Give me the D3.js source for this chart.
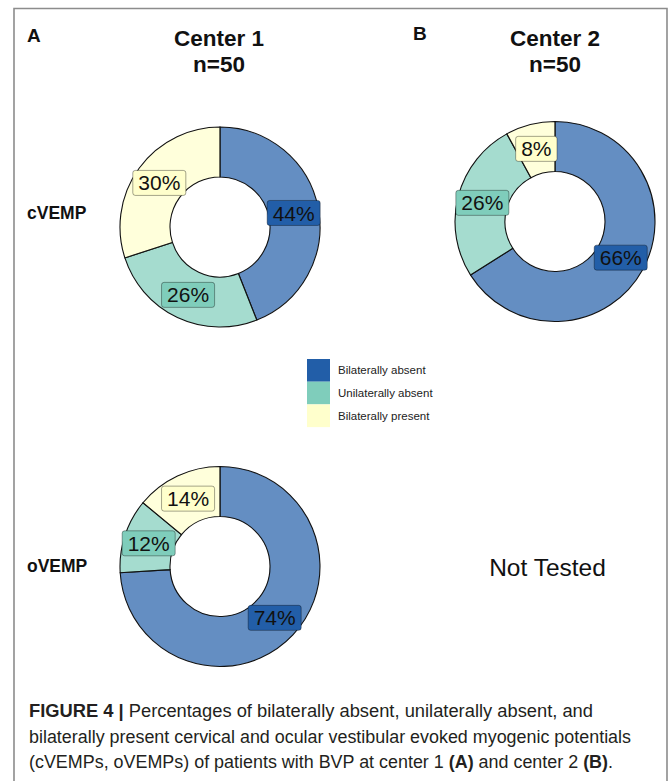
<!DOCTYPE html>
<html>
<head>
<meta charset="utf-8">
<script src="https://cdn.jsdelivr.net/npm/d3@7"></script>
<style>
  html, body { margin: 0; padding: 0; background: #fff; }
  svg { display: block; font-family: "Liberation Sans", Arial, Helvetica, sans-serif; }
</style>
</head>
<body>
<svg id="fig" width="669" height="781"></svg>
<script>
// Response categories, shared by every ring and the key
const categories = ["Bilaterally absent", "Unilaterally absent", "Bilaterally present"];
const keyColors = ["#225EA8", "#7FCDBB", "#FFFFCC"];

// Percent of patients per category
const center1Cvemp = [44, 26, 30];
const center2Cvemp = [66, 26, 8];
const center1Ovemp = [74, 12, 14];

// Text
const panelLetters = ["A", "B"];
const centerTitles = ["Center 1", "Center 2"];
const sampleSizes = ["n=50", "n=50"];
const rowLabels = ["cVEMP", "oVEMP"];
const missingText = "Not Tested";

const svg = d3.select("#fig");

// Outer frame (top, left, right edges)
svg.append("path")
  .attr("d", "M14,781 L14,8.5 L667,8.5 L667,781")
  .attr("fill", "none")
  .attr("stroke", "#8c8c8c")
  .attr("stroke-width", 1.6);

const color = d3.scaleOrdinal().domain(categories).range(keyColors);
const pie = d3.pie().sort(null).value(d => d.value);
const rOuter = 100, rInner = 50;
const arc = d3.arc().innerRadius(rInner).outerRadius(rOuter);
const labelArc = d3.arc().innerRadius(75).outerRadius(75);

function donut(values, cx, cy) {
  const data = values.map((v, i) => ({ key: categories[i], value: v }));
  const arcs = pie(data);
  const g = svg.append("g").attr("transform", `translate(${cx},${cy})`);

  g.selectAll("path.slice")
    .data(arcs)
    .join("path")
    .attr("class", "slice")
    .attr("d", arc)
    .attr("fill", d => color(d.data.key))
    .attr("fill-opacity", 0.7)
    .attr("stroke", "#111")
    .attr("stroke-width", 1.1);

  // white fill behind the translucent slices
  g.insert("circle", "path")
    .attr("r", rOuter)
    .attr("fill", "#fff");

  const lab = g.selectAll("g.lab")
    .data(arcs)
    .join("g")
    .attr("class", "lab")
    .attr("transform", d => `translate(${labelArc.centroid(d)})`);

  lab.each(function (d) {
    const sel = d3.select(this);
    const t = sel.append("text")
      .attr("text-anchor", "middle")
      .attr("dy", "0.36em")
      .attr("font-size", 21)
      .attr("fill", "#111")
      .text(d.data.value + "%");
    const w = t.node().getComputedTextLength() + 11;
    const h = 25;
    sel.insert("rect", "text")
      .attr("x", -w / 2)
      .attr("y", -h / 2)
      .attr("width", w)
      .attr("height", h)
      .attr("rx", 2.5)
      .attr("fill", color(d.data.key))
      .attr("stroke", "rgba(0,0,0,0.45)")
      .attr("stroke-width", 0.8);
  });
}

donut(center1Cvemp, 220, 227);
donut(center2Cvemp, 555, 221.5);
donut(center1Ovemp, 220, 566.5);

// Panel letters and column titles
const colX = [219, 555];
panelLetters.forEach((l, i) => {
  svg.append("text")
    .attr("x", i === 0 ? 27 : 413)
    .attr("y", i === 0 ? 42 : 40)
    .attr("font-size", 19)
    .attr("font-weight", "bold")
    .attr("fill", "#111")
    .text(l);
});
centerTitles.forEach((t, i) => {
  svg.append("text")
    .attr("x", colX[i]).attr("y", 46)
    .attr("text-anchor", "middle")
    .attr("font-size", 22.5)
    .attr("font-weight", "bold")
    .attr("fill", "#111")
    .text(t);
  svg.append("text")
    .attr("x", colX[i]).attr("y", 72)
    .attr("text-anchor", "middle")
    .attr("font-size", 22.5)
    .attr("font-weight", "bold")
    .attr("fill", "#111")
    .text(sampleSizes[i]);
});

// Row labels
[219, 572].forEach((y, i) => {
  svg.append("text")
    .attr("x", 27).attr("y", y)
    .attr("font-size", 17.5)
    .attr("font-weight", "bold")
    .attr("fill", "#111")
    .text(rowLabels[i]);
});

svg.append("text")
  .attr("x", 547.5).attr("y", 576)
  .attr("text-anchor", "middle")
  .attr("font-size", 24.5)
  .attr("fill", "#111")
  .text(missingText);

// Key
const key = svg.append("g").attr("transform", "translate(307,359)");
const keyH = 22.7;
categories.forEach((c, i) => {
  key.append("rect")
    .attr("x", 0).attr("y", i * keyH)
    .attr("width", 23).attr("height", keyH)
    .attr("fill", color(c));
  key.append("text")
    .attr("x", 31).attr("y", i * keyH + keyH / 2)
    .attr("dy", "0.35em")
    .attr("font-size", 11.5)
    .attr("fill", "#222")
    .text(c);
});

// Caption
const captionLines = [
  { parts: [["FIGURE 4 | ", true], ["Percentages of bilaterally absent, unilaterally absent, and", false]], w: 564 },
  { parts: [["bilaterally present cervical and ocular vestibular evoked myogenic potentials", false]], w: 602 },
  { parts: [["(cVEMPs, oVEMPs) of patients with BVP at center 1 ", false], ["(A)", true], [" and center 2 ", false], ["(B)", true], [".", false]], w: 584 }
];
captionLines.forEach((ln, i) => {
  const t = svg.append("text")
    .attr("x", 29).attr("y", 717 + i * 25.5)
    .attr("font-size", 17.5)
    .attr("fill", "#231f20")
    .attr("xml:space", "preserve")
    .style("white-space", "pre");
  ln.parts.forEach(([s, b]) => {
    t.append("tspan").attr("font-weight", b ? "bold" : "normal").text(s);
  });
  t.attr("textLength", ln.w).attr("lengthAdjust", "spacingAndGlyphs");
});
</script>
</body>
</html>
